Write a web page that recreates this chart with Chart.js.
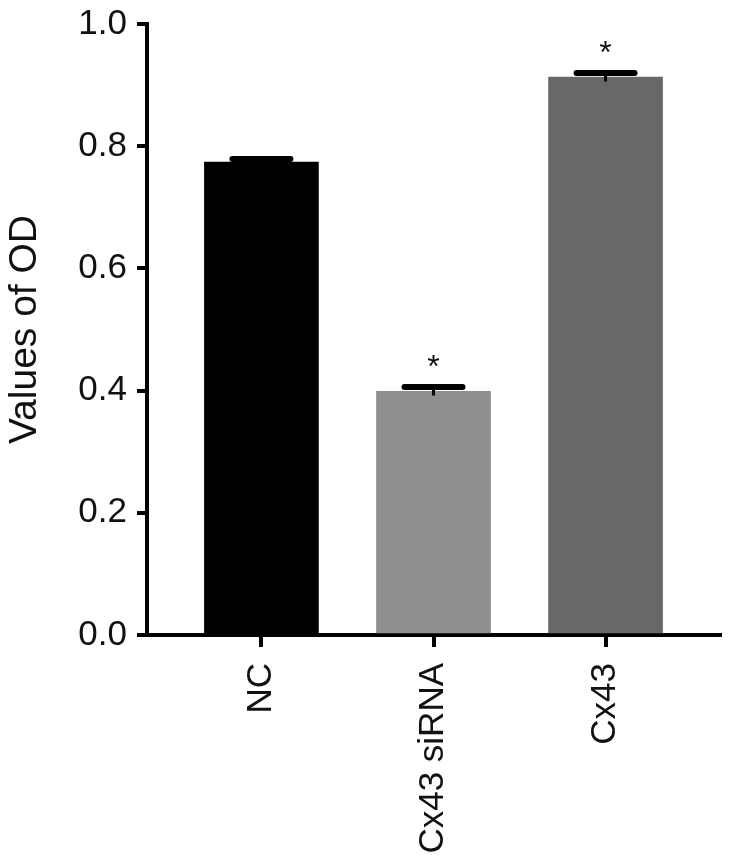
<!DOCTYPE html>
<html>
<head>
<meta charset="utf-8">
<script src="https://cdn.jsdelivr.net/npm/chart.js@4/dist/chart.umd.min.js"></script>
<style>
html,body{margin:0;padding:0;background:#fff;}
canvas{display:block;}
</style>
</head>
<body>
<canvas id="c" width="732" height="863"></canvas>
<script>
const categories = ['NC', 'Cx43 siRNA', 'Cx43'];
const odValues = [0.774, 0.399, 0.913];
const odErrors = [0.005, 0.007, 0.007];
const significance = ['', '*', '*'];
const barColors = ['#000000', '#8e8e8e', '#686868'];
const yTickStep = 0.2;
const yMin = 0;
const yMax = 1.0;
const yTitle = 'Values of OD';

const FONT = '"Liberation Sans", Arial, Helvetica, sans-serif';

const errorBarPlugin = {
  id: 'errorBars',
  afterDatasetsDraw(chart) {
    const ctx = chart.ctx;
    const xs = chart.scales.x, ys = chart.scales.y;
    ctx.save();
    categories.forEach((c, i) => {
      const x = xs.getPixelForValue(i);
      const yTop = ys.getPixelForValue(odValues[i] + odErrors[i]);
      const yBot = ys.getPixelForValue(odValues[i] - odErrors[i]);
      ctx.strokeStyle = '#000';
      ctx.lineWidth = 3;
      ctx.lineCap = 'butt';
      ctx.beginPath();
      ctx.moveTo(x, yBot);
      ctx.lineTo(x, yTop);
      ctx.stroke();
      ctx.lineWidth = 6;
      ctx.lineCap = 'round';
      ctx.beginPath();
      ctx.moveTo(x - 29, yTop);
      ctx.lineTo(x + 29, yTop);
      ctx.stroke();
      if (significance[i]) {
        ctx.fillStyle = '#111';
        ctx.font = '32px ' + FONT;
        ctx.textAlign = 'center';
        ctx.textBaseline = 'alphabetic';
        ctx.fillText(significance[i], x, yTop - 10);
      }
    });
    ctx.restore();
  }
};

new Chart(document.getElementById('c'), {
  type: 'bar',
  data: {
    datasets: [{
      data: categories.map((c, i) => ({ x: i, y: odValues[i] })),
      backgroundColor: barColors,
      borderWidth: 0,
      barThickness: 114
    }]
  },
  options: {
    responsive: false,
    animation: false,
    devicePixelRatio: 1,
    layout: { padding: { top: 24, right: 12, left: 0, bottom: 0 } },
    plugins: { legend: { display: false }, tooltip: { enabled: false } },
    scales: {
      x: {
        type: 'linear',
        offset: false,
        min: -0.665,
        max: 2.665,
        afterBuildTicks: s => { s.ticks = categories.map((c, i) => ({ value: i })); },
        afterFit: s => { s.height = 228; s.paddingLeft = 0; s.paddingRight = 0; },
        ticks: {
          autoSkip: false,
          minRotation: 90,
          maxRotation: 90,
          padding: 16,
          color: '#111',
          font: { family: FONT, size: 35 },
          callback: v => categories[v]
        },
        grid: { offset: false, drawOnChartArea: false, drawTicks: true, tickLength: 12, lineWidth: 4, color: '#000' },
        border: { display: true, width: 4, color: '#000' }
      },
      y: {
        min: yMin,
        max: yMax,
        afterFit: s => { s.width = 147; s.paddingTop = 0; s.paddingBottom = 0; },
        ticks: {
          stepSize: yTickStep,
          autoSkip: false,
          padding: 10,
          color: '#111',
          font: { family: FONT, size: 35 },
          callback: v => v.toFixed(1)
        },
        grid: { drawOnChartArea: false, drawTicks: true, tickLength: 10, lineWidth: 4, color: '#000' },
        border: { display: true, width: 4, color: '#000' },
        title: {
          display: true,
          text: yTitle,
          color: '#111',
          font: { family: FONT, size: 39 },
          padding: { top: 2, bottom: 0 }
        }
      }
    }
  },
  plugins: [errorBarPlugin]
});
</script>
</body>
</html>
